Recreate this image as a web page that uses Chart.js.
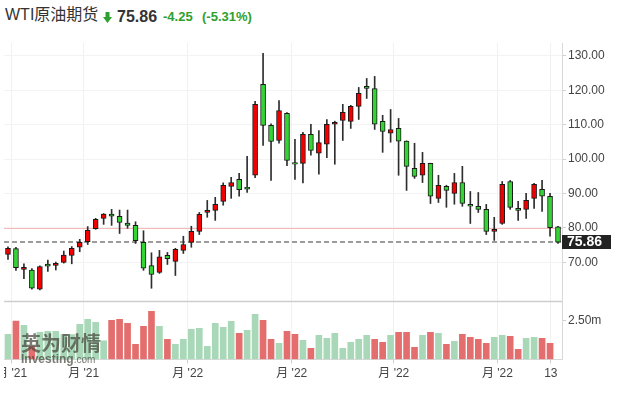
<!DOCTYPE html>
<html>
<head>
<meta charset="utf-8">
<script src="https://cdn.jsdelivr.net/npm/chart.js@4.4.0/dist/chart.umd.min.js"></script>
<style>
body{margin:0;width:618px;height:396px;background:#fff;position:relative;overflow:hidden;font-family:"Liberation Sans",Arial,"Noto Sans CJK SC",sans-serif}
#box{position:absolute;left:4px;top:0;width:614px;height:396px}
.t{position:absolute;white-space:nowrap}
#name{left:5px;top:5px;font-size:16px;line-height:20px;color:#333}
#arrow{position:absolute;left:103px;top:12px}
#last{left:117px;top:7px;font-size:16px;line-height:20px;font-weight:bold;color:#333}
#chg{left:163px;top:9px;font-size:13px;line-height:16px;font-weight:bold;color:#2ea02e}
#pct{left:202px;top:9px;font-size:13px;line-height:16px;font-weight:bold;color:#2ea02e}
#wm{position:absolute;left:21px;top:332px;color:rgba(70,70,60,0.72);pointer-events:none}
#wm .cn{font-size:20px;font-weight:bold;line-height:21px;font-family:"Noto Sans CJK SC",sans-serif}
#wm .en{font-size:12px;font-weight:bold;line-height:12px}
#wm .en span{font-weight:normal;font-size:10px}
</style>
</head>
<body>
<div class="t" id="name">WTI原油期货</div>
<svg id="arrow" width="9" height="11" viewBox="0 0 9 11"><polygon points="2.5,0 6.5,0 6.5,5 9,5 4.5,11 0,5 2.5,5" fill="#2ea02e"/></svg>
<div class="t" id="last">75.86</div>
<div class="t" id="chg">-4.25</div>
<div class="t" id="pct">(-5.31%)</div>
<div id="box"><canvas id="c" width="614" height="396"></canvas></div>
<div id="wm"><div class="cn">英为财情</div><div class="en">Investing<span>.com</span></div></div>
<script>
// weekly candles, oldest first
const opens = [72.3,74.0,67.95,67.8,62.2,69.5,69.1,70.0,72.0,74.4,76.0,79.8,82.8,84.05,83.4,81.4,80.75,75.8,69.1,67.1,72.05,70.3,73.5,75.8,79.0,84.5,85.1,87.7,92.1,94.1,91.8,95.3,121.7,109.8,105.4,113.3,99.0,98.75,107.2,101.7,104.3,110.1,111.2,110.95,115.3,121.1,120.5,110.95,107.5,108.9,105.2,97.3,95.3,98.75,88.6,92.1,90.05,93.2,86.85,86.3,85.4,79.0,81.3,93.5,85.7,85.4,88.6,91.2,89.2,80.3]
const highs = [74.5,74.4,69.6,68.2,69.0,70.7,70.1,73.3,74.6,76.7,80.4,82.8,84.2,85.4,85.2,85.2,81.8,79.2,72.8,73.5,72.9,74.1,77.6,80.5,84.5,88.0,88.9,93.1,94.7,95.85,100.8,116.8,130.7,110.2,117.0,113.5,105.7,107.8,110.1,108.3,111.5,111.0,115.9,115.6,120.8,123.4,124.0,112.7,114.4,111.8,105.3,104.6,101.95,98.8,95.3,92.4,95.85,97.9,90.6,90.3,86.85,83.1,93.5,93.8,87.7,90.05,92.95,93.8,90.05,80.5]
const lows = [70.9,67.7,65.3,62.2,62.0,67.4,67.8,69.8,69.6,73.1,75.2,79.6,81.05,80.75,78.4,79.9,75.5,67.7,62.5,66.8,69.4,66.2,72.6,74.4,78.1,83.1,82.2,86.6,88.6,89.2,90.3,94.6,104.0,93.8,104.6,98.1,94.1,93.1,101.1,95.6,100.4,98.5,105.4,108.9,111.5,117.6,108.6,101.95,104.9,95.3,90.9,94.4,93.2,87.1,87.4,86.0,86.9,86.3,81.3,84.5,78.1,76.4,81.05,85.4,82.2,82.8,85.7,84.8,77.6,75.5]
const closes = [74.1,68.45,68.55,62.5,68.8,68.9,69.7,72.1,74.1,75.8,79.3,82.5,84.05,83.4,81.6,80.75,76.3,68.3,66.5,71.65,71.1,73.8,75.2,79.0,83.95,85.1,86.85,92.4,93.2,91.1,91.3,115.9,109.8,105.1,114.1,99.6,98.5,107.2,102.5,104.8,110.1,110.7,113.6,115.3,119.1,120.5,110.1,108.05,108.6,105.2,97.9,95.0,98.75,89.2,92.4,90.9,93.2,87.1,86.3,85.4,79.0,79.6,92.7,86.0,85.1,88.0,92.7,89.2,80.11,75.86]
// volume in millions
const volumes = [1.62,2.48,2.20,0.82,1.75,1.81,1.81,1.62,1.60,2.27,2.59,2.40,1.20,2.53,2.59,2.33,0.97,2.14,3.11,2.14,1.30,0.97,1.30,1.94,2.01,0.84,2.33,2.07,2.46,1.68,1.88,2.92,2.53,1.30,1.04,1.81,1.62,1.23,0.71,1.56,1.36,1.68,0.71,1.10,1.30,1.56,1.30,1.10,1.56,1.75,1.75,0.78,1.56,1.75,1.68,0.97,1.17,1.62,1.43,1.30,1.04,1.43,1.56,1.49,0.65,1.36,1.43,1.36,1.04,null]

const xTickAt = [0.46,9.5,22.55,35.6,48.4,61.4,68.1]
const xTickLabels = ["月 '21","月 '21","月 '22","月 '22","月 '22","月 '22","13"]
const priceTicks = [70,80,90,100,110,120,130]
const volTicks = [2.5]
const lastPrice = 75.86
const prevClose = 80.11

const upCol = '#f20000', downCol = '#33d433'
const volUp = '#a8d8b8', volDown = '#e46e6e'

Chart.defaults.font.family = '"Liberation Sans", Arial, "Noto Sans CJK SC", sans-serif'

const lines = {
  id:'lines',
  beforeDatasetsDraw(chart){
    const {ctx, chartArea:a, scales} = chart
    const y = scales.y
    ctx.save()
    let py = Math.round(y.getPixelForValue(prevClose)) + 0.5
    ctx.strokeStyle = '#f6b9b9'; ctx.lineWidth = 1
    ctx.beginPath(); ctx.moveTo(a.left, py); ctx.lineTo(a.right, py); ctx.stroke()
    let ly = Math.round(y.getPixelForValue(lastPrice))
    ctx.strokeStyle = '#9c9c9c'; ctx.lineWidth = 2; ctx.setLineDash([5,3])
    ctx.beginPath(); ctx.moveTo(a.left, ly); ctx.lineTo(a.right, ly); ctx.stroke()
    ctx.setLineDash([])
    let sy = Math.round(y.bottom) + 0.5
    ctx.strokeStyle = '#cdcdcd'; ctx.lineWidth = 1.5
    ctx.beginPath(); ctx.moveTo(a.left, sy); ctx.lineTo(a.right, sy); ctx.stroke()
    ctx.restore()
  },
  afterDraw(chart){
    const {ctx, chartArea:a, scales} = chart
    const y = scales.y
    let ly = Math.round(y.getPixelForValue(lastPrice))
    ctx.save()
    ctx.fillStyle = '#222'
    ctx.fillRect(a.right, ly - 7, 49, 14)
    ctx.fillStyle = '#fff'
    ctx.font = 'bold 14px "Liberation Sans", Arial, sans-serif'
    ctx.textBaseline = 'middle'
    ctx.fillText(lastPrice.toFixed(2), a.right + 5, ly + 0.5)
    ctx.restore()
  }
}

const idx = opens.map((_, i) => i)

new Chart(document.getElementById('c'), {
  type:'bar',
  data:{
    datasets:[
      {
        label:'body',
        data: idx.map(i => ({x:i, y:[opens[i], closes[i]]})),
        backgroundColor: idx.map(i => closes[i] >= opens[i] ? upCol : downCol),
        borderColor:'#1a1a1a',
        borderWidth:1,
        borderSkipped:false,
        barThickness:5,
        grouped:false,
        yAxisID:'y',
        order:1
      },
      {
        label:'wick',
        data: idx.map(i => ({x:i, y:[lows[i], highs[i]]})),
        backgroundColor:'#2e2e2e',
        barThickness:1,
        grouped:false,
        yAxisID:'y',
        order:2
      },
      {
        label:'volume',
        data: idx.map(i => ({x:i, y:volumes[i]})),
        backgroundColor: idx.map(i => closes[i] >= (i ? closes[i-1] : opens[i]) ? volUp : volDown),
        barThickness:6,
        grouped:false,
        yAxisID:'yv',
        order:3
      }
    ]
  },
  options:{
    responsive:false,
    animation:false,
    layout:{padding:{top:43, left:0, right:0, bottom:0}},
    plugins:{legend:{display:false}, tooltip:{enabled:false}},
    scales:{
      x:{
        type:'linear', min:-0.5, max:69.5, offset:false,
        afterBuildTicks: s => { s.ticks = xTickAt.map(v => ({value:v})) },
        afterFit: s => { s.height = 36.7; s.paddingLeft = 0; s.paddingRight = 0 },
        ticks:{callback:(v, i) => xTickLabels[i], autoSkip:false, maxRotation:0, color:'#444', font:{size:12}, padding:3},
        grid:{color:'#f1f1f1', tickColor:'#cfcfcf', tickLength:4, offset:false},
        border:{color:'#d8d8d8'}
      },
      y:{
        position:'right', stack:'panes', stackWeight:258,
        min:58.8, max:133.7,
        afterBuildTicks: s => { s.ticks = priceTicks.map(v => ({value:v})) },
        afterFit: s => { s.width = 56; s.paddingTop = 0; s.paddingBottom = 0 },
        ticks:{callback:v => v.toFixed(2), color:'#444', font:{size:12}, padding:2},
        grid:{color:'#f3f3f3', tickColor:'#cfcfcf', tickLength:4},
        border:{color:'#d8d8d8'}
      },
      yv:{
        position:'right', stack:'panes', stackWeight:58.3,
        min:0, max:3.78,
        afterBuildTicks: s => { s.ticks = volTicks.map(v => ({value:v})) },
        afterFit: s => { s.width = 56; s.paddingTop = 0; s.paddingBottom = 0 },
        ticks:{callback:v => v.toFixed(2) + 'm', color:'#444', font:{size:12}, padding:2},
        grid:{drawOnChartArea:false, tickColor:'#cfcfcf', tickLength:4},
        border:{color:'#d8d8d8'}
      }
    }
  },
  plugins:[lines]
})
</script>
</body>
</html>
